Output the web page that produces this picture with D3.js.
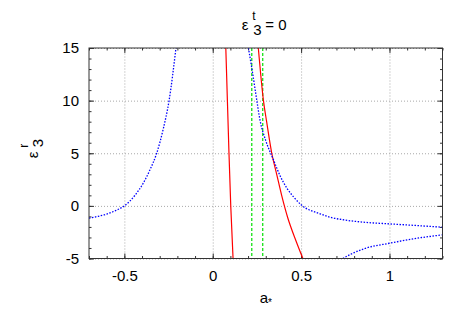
<!DOCTYPE html>
<html>
<head>
<meta charset="utf-8">
<script src="https://cdn.jsdelivr.net/npm/d3@7"></script>
<style>
body { margin: 0; background: #fff; }
text { font-family: "Liberation Sans", Arial, sans-serif; font-size: 15px; fill: #000; }
</style>
</head>
<body>
<div id="grafico"></div>
<script>
// valores
var xTicks = [-0.5, 0, 0.5, 1];
var yTicks = [-5, 0, 5, 10, 15];
var xLabels = ["-0.5", "0", "0.5", "1"];
var yLabels = ["-5", "0", "5", "10", "15"];

// curvas rojas (linea continua)
var rojo1A = [0.074, 0.083, 0.092, 0.102, 0.115];
var rojo1E = [15, 10, 5, 0, -5];
var rojo2A = [0.258, 0.287, 0.305, 0.334, 0.362, 0.390, 0.424, 0.466, 0.510];
var rojo2E = [15, 10, 8, 5, 3, 1, -1.1, -3.1, -5];

// lineas verdes verticales (trazos)
var verdeA = [0.221, 0.283];

// curvas azules (puntos)
var azul1A = [-0.70, -0.65, -0.60, -0.55, -0.50, -0.44, -0.393, -0.355, -0.317, -0.28, -0.247, -0.208];
var azul1E = [-1.17, -1.0, -0.78, -0.45, 0, 1.0, 2.16, 3.43, 5, 7.3, 10, 15];
var azul2A = [0.202, 0.222, 0.245, 0.268, 0.30, 0.343, 0.38, 0.419, 0.46, 0.504, 0.607, 0.664, 0.75, 0.853, 1.0, 1.155, 1.3];
var azul2E = [15, 13, 10.5, 8.1, 6.2, 4.4, 2.9, 1.7, 0.8, 0.05, -0.75, -1.08, -1.35, -1.55, -1.71, -1.87, -2.03];
var azul3A = [0.736, 0.78, 0.86, 1.0, 1.155, 1.296];
var azul3E = [-5, -4.6, -4.05, -3.55, -3.08, -2.76];

function graficar(){
	var width = 467;
	var height = 327;
	var margin = {top: 48, right: 24.5, bottom: 68.5, left: 89};
	var w = width - margin.left - margin.right;
	var h = height - margin.top - margin.bottom;

	var x = d3.scaleLinear().domain([-0.7, 1.3]).range([0, w]);
	var y = d3.scaleLinear().domain([-5, 15]).range([h, 0]);

	var svg = d3.select("#grafico")
				.append("svg")
				.attr("width", width)
				.attr("height", height);

	var g = svg.append("g")
				.attr("transform", "translate(" + margin.left + "," + margin.top + ")");

	g.append("clipPath").attr("id", "recorte")
		.append("rect").attr("width", w).attr("height", h);

	// grilla punteada
	g.append("g")
		.attr("transform", "translate(0," + h + ")")
		.call(d3.axisBottom(x).tickValues(xTicks).tickSize(-h).tickFormat(""))
		.call(grilla);
	g.append("g")
		.call(d3.axisLeft(y).tickValues(yTicks).tickSize(-w).tickFormat(""))
		.call(grilla);

	function grilla(sel){
		sel.select(".domain").remove();
		sel.selectAll("line")
			.attr("stroke", "#a8a8a8")
			.attr("stroke-width", 1)
			.attr("stroke-dasharray", "1,2");
	}

	// marcas menores en los cuatro lados
	var xMenor = d3.range(-7, 14).map(function(i){ return i / 10; });
	var yMenor = d3.range(-5, 16);
	g.append("g").attr("transform", "translate(0," + h + ")")
		.call(d3.axisBottom(x).tickValues(xMenor).tickSize(-2.5).tickFormat("")).call(marcas);
	g.append("g")
		.call(d3.axisTop(x).tickValues(xMenor).tickSize(-2.5).tickFormat("")).call(marcas);
	g.append("g")
		.call(d3.axisLeft(y).tickValues(yMenor).tickSize(-2.5).tickFormat("")).call(marcas);
	g.append("g").attr("transform", "translate(" + w + ",0)")
		.call(d3.axisRight(y).tickValues(yMenor).tickSize(-2.5).tickFormat("")).call(marcas);

	// marcas mayores con etiquetas
	g.append("g").attr("transform", "translate(0," + h + ")")
		.call(d3.axisBottom(x).tickValues(xTicks).tickSize(-5).tickPadding(12)
			.tickFormat(function(d, i){ return xLabels[i]; })).call(marcas);
	g.append("g")
		.call(d3.axisTop(x).tickValues(xTicks).tickSize(-5).tickFormat("")).call(marcas);
	g.append("g")
		.call(d3.axisLeft(y).tickValues(yTicks).tickSize(-5).tickPadding(10)
			.tickFormat(function(d, i){ return yLabels[i]; })).call(marcas);
	g.append("g").attr("transform", "translate(" + w + ",0)")
		.call(d3.axisRight(y).tickValues(yTicks).tickSize(-5).tickFormat("")).call(marcas);

	function marcas(sel){
		sel.attr("font-size", null).attr("font-family", null);
		sel.select(".domain").remove();
		sel.selectAll("line").attr("stroke", "#333").attr("stroke-width", 1);
		sel.selectAll("text").attr("fill", "#000");
	}

	var linea = d3.line()
				.x(function(d){ return x(d[0]); })
				.y(function(d){ return y(d[1]); })
				.curve(d3.curveMonotoneX);

	var curvas = g.append("g").attr("clip-path", "url(#recorte)");

	function serie(as, es){
		return as.map(function(a, i){ return [a, es[i]]; });
	}

	curvas.selectAll(".verde")
		.data(verdeA)
		.enter()
		.append("line")
		.attr("class", "verde")
		.attr("x1", function(d){ return x(d); })
		.attr("x2", function(d){ return x(d); })
		.attr("y1", y(15))
		.attr("y2", y(-5))
		.attr("stroke", "#00e000")
		.attr("stroke-width", 1.2)
		.attr("stroke-dasharray", "3,2");

	[serie(rojo1A, rojo1E), serie(rojo2A, rojo2E)].forEach(function(s){
		curvas.append("path")
			.attr("d", linea(s))
			.attr("fill", "none")
			.attr("stroke", "#ff0000")
			.attr("stroke-width", 1.2);
	});

	[serie(azul1A, azul1E), serie(azul2A, azul2E), serie(azul3A, azul3E)].forEach(function(s){
		curvas.append("path")
			.attr("d", linea(s))
			.attr("fill", "none")
			.attr("stroke", "#0000ff")
			.attr("stroke-width", 1.3)
			.attr("stroke-dasharray", "1.5,1.5");
	});

	// borde
	g.append("rect")
		.attr("width", w)
		.attr("height", h)
		.attr("fill", "none")
		.attr("stroke", "#333")
		.attr("stroke-width", 1);

	// titulo: epsilon con t arriba y 3 abajo
	var cx = margin.left + w / 2;
	var titulo = svg.append("g").attr("transform", "translate(" + (cx - 24) + ",29.5)");
	titulo.append("text").attr("x", 0).attr("y", 0).text("ε");
	titulo.append("text").attr("x", 10.5).attr("y", -10).style("font-size", "12px").text("t");
	titulo.append("text").attr("x", 11.5).attr("y", 5).text("3");
	titulo.append("text").attr("x", 23.5).attr("y", 0).text("= 0");

	// etiqueta eje y (rotada)
	var ey = svg.append("g").attr("transform", "translate(37.5," + (margin.top + h / 2) + ") rotate(-90)");
	ey.append("text").attr("x", -5).attr("y", 0).text("ε");
	ey.append("text").attr("x", 5.5).attr("y", -10).style("font-size", "12px").text("r");
	ey.append("text").attr("x", 6).attr("y", 5).text("3");

	// etiqueta eje x
	var ex = svg.append("text")
				.attr("x", cx)
				.attr("y", 302.5)
				.attr("text-anchor", "middle");
	ex.append("tspan").text("a");
	ex.append("tspan").attr("dy", 3).style("font-size", "10px").text("*");
}

graficar();
</script>
</body>
</html>
